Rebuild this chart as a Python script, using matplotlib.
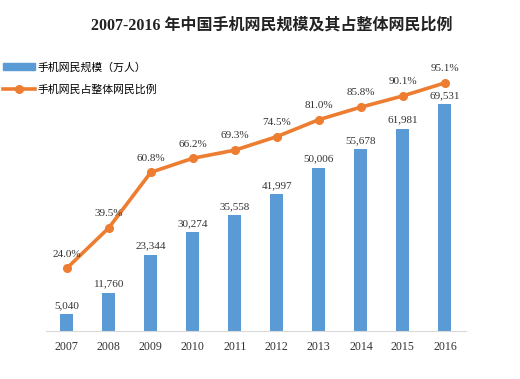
import matplotlib
matplotlib.use("Agg")
import matplotlib.pyplot as plt
from matplotlib.lines import Line2D
from matplotlib.patches import Patch

plt.rcParams['font.family'] = ['Liberation Serif', 'Noto Sans CJK SC', 'DejaVu Sans']

# --- 数据 ---
years = ['2007', '2008', '2009', '2010', '2011', '2012', '2013', '2014', '2015', '2016']
users = [5040, 11760, 23344, 30274, 35558, 41997, 50006, 55678, 61981, 69531]   # 万人
ratio = [24.0, 39.5, 60.8, 66.2, 69.3, 74.5, 81.0, 85.8, 90.1, 95.1]            # %

bar_color = '#5B9BD5'
line_color = '#ED7D31'

fig = plt.figure(figsize=(5.2, 3.79), dpi=100)
ax = fig.add_axes([0.088, 0.127, 0.808, 0.688])
ax2 = ax.twinx()

x = list(range(len(years)))
ax.bar(x, users, width=0.31, color=bar_color, zorder=2)
for xi, v in zip(x, users):
    ax.annotate(f'{v:,}', (xi, v), xytext=(0, 3), textcoords='offset points',
                ha='center', va='bottom', fontsize=8, color='#333333')

ax2.plot(x, ratio, color=line_color, linewidth=2.6, marker='o', markersize=5.5, zorder=3)
for xi, v in zip(x, ratio):
    ax2.annotate(f'{v:.1f}%', (xi, v), xytext=(0, 7), textcoords='offset points',
                 ha='center', va='bottom', fontsize=8, color='#333333')

ax.set_xlim(-0.5, len(years) - 0.5)
ax.set_ylim(0, 80000)
ax2.set_ylim(0, 100)

for a in (ax, ax2):
    for s in ('top', 'right', 'left'):
        a.spines[s].set_visible(False)
    a.set_yticks([])
ax2.spines['bottom'].set_visible(False)
ax.spines['bottom'].set_color('#d9d9d9')

ax.set_xticks(x)
ax.set_xticklabels(years, fontsize=8.6, color='#333333')
ax.tick_params(axis='x', length=0, pad=7)

fig.text(0.523, 0.932, '2007-2016 年中国手机网民规模及其占整体网民比例',
         ha='center', va='center', fontsize=11.5, fontweight='bold', color='#222222')

handles = [Patch(color=bar_color),
           Line2D([0], [0], color=line_color, linewidth=2.6, marker='o', markersize=5.5)]
labels = ['手机网民规模（万人）', '手机网民占整体网民比例']
fig.legend(handles, labels, loc='upper left', bbox_to_anchor=(-0.002, 0.848),
           frameon=False, fontsize=7.8, handlelength=2.9, handleheight=0.55,
           labelspacing=1.1, handletextpad=0.25, borderaxespad=0)

fig.savefig('out.png', dpi=100)
